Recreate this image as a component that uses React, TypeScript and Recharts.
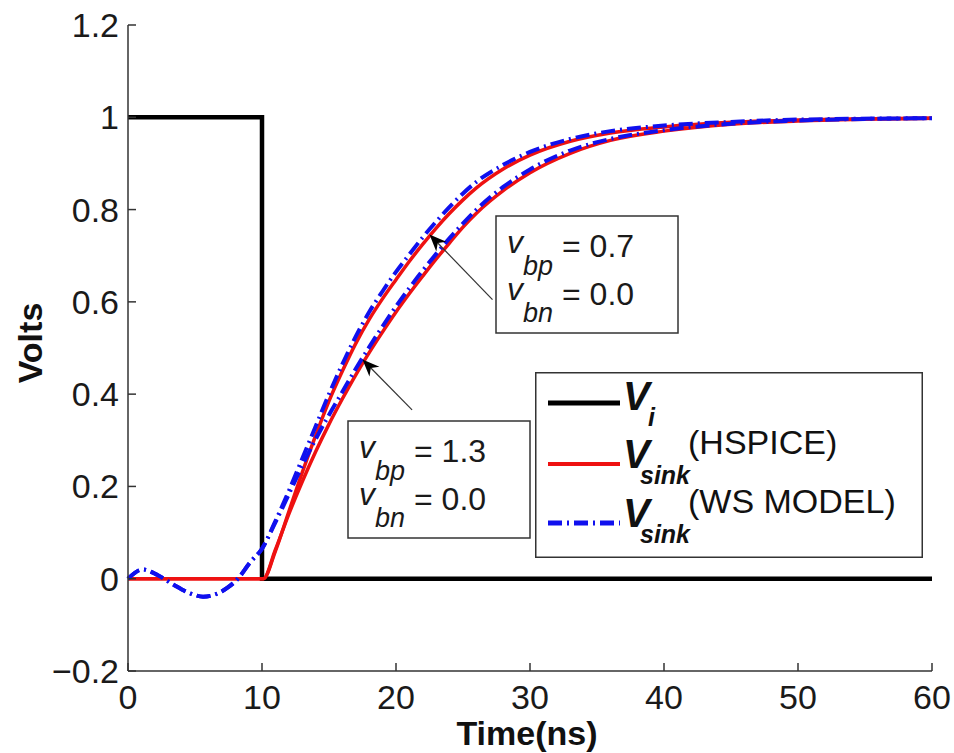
import React from 'react';
import { LineChart, Line, XAxis, YAxis, ReferenceLine, Legend } from 'recharts';

const FONT = '"Liberation Sans", Arial, Helvetica, sans-serif';

// input step V_i
const viTime = [0, 10, 10, 60];
const viVolts = [1, 1, 0, 0];

// HSPICE sink voltage, v_bp = 0.7
const hspiceFastTime = [0, 10.1, 11, 12, 13, 14, 15, 16, 17, 18, 19, 20, 21, 22, 23, 24, 25, 26, 28, 30, 33, 36, 40, 45, 50, 60];
const hspiceFastVolts = [0, 0, 0.06, 0.145, 0.23, 0.31, 0.385, 0.45, 0.51, 0.562, 0.607, 0.648, 0.688, 0.725, 0.76, 0.792, 0.821, 0.847, 0.888, 0.918, 0.948, 0.966, 0.979, 0.989, 0.994, 0.998];

// HSPICE sink voltage, v_bp = 1.3
const hspiceSlowTime = [0, 10.1, 11, 12, 13, 14, 15, 16, 17, 18, 19, 20, 21, 22, 23, 24, 25, 26, 27, 28, 30, 33, 36, 40, 45, 50, 60];
const hspiceSlowVolts = [0, 0, 0.063, 0.14, 0.21, 0.275, 0.335, 0.39, 0.442, 0.49, 0.535, 0.578, 0.618, 0.656, 0.693, 0.728, 0.762, 0.792, 0.818, 0.841, 0.88, 0.922, 0.95, 0.97, 0.985, 0.992, 0.998];

// WS model sink voltage, v_bp = 0.7
const wsFastTime = [0, 1.1, 2.2, 3.4, 4.5, 5.6, 6.6, 7.4, 8.2, 9.1, 10, 11, 12, 13, 14, 15, 16, 17, 18, 19, 20, 21, 22, 23, 24, 25, 26, 28, 30, 33, 36, 40, 45, 50, 60];
const wsFastVolts = [0, 0.02, 0.008, -0.013, -0.03, -0.039, -0.033, -0.02, 0, 0.035, 0.065, 0.125, 0.19, 0.26, 0.33, 0.4, 0.465, 0.525, 0.578, 0.623, 0.665, 0.703, 0.74, 0.774, 0.806, 0.835, 0.86, 0.897, 0.925, 0.953, 0.97, 0.982, 0.99, 0.995, 0.998];

// WS model sink voltage, v_bp = 1.3
const wsSlowTime = [0, 1.1, 2.2, 3.4, 4.5, 5.6, 6.6, 7.4, 8.2, 9.1, 10, 11, 12, 13, 14, 15, 16, 17, 18, 19, 20, 21, 22, 23, 24, 25, 26, 27, 28, 30, 33, 36, 40, 45, 50, 60];
const wsSlowVolts = [0, 0.02, 0.008, -0.013, -0.03, -0.039, -0.033, -0.02, 0, 0.035, 0.065, 0.122, 0.183, 0.245, 0.302, 0.355, 0.405, 0.455, 0.502, 0.547, 0.59, 0.63, 0.668, 0.704, 0.738, 0.77, 0.8, 0.826, 0.849, 0.887, 0.928, 0.953, 0.972, 0.986, 0.993, 0.998];

const timeTicks = [0, 10, 20, 30, 40, 50, 60];
const voltTicks = [-0.2, 0, 0.2, 0.4, 0.6, 0.8, 1, 1.2];

// arrow segments [tail, tip] in data units
const arrowFast = [{ x: 27.2, y: 0.605 }, { x: 22.5, y: 0.746 }];
const arrowSlow = [{ x: 21.2, y: 0.366 }, { x: 17.5, y: 0.475 }];

const zip = (t: number[], v: number[]) => t.map((x, i) => ({ t: x, v: v[i] }));

const viData = zip(viTime, viVolts);
const hsFast = zip(hspiceFastTime, hspiceFastVolts);
const hsSlow = zip(hspiceSlowTime, hspiceSlowVolts);
const wsFast = zip(wsFastTime, wsFastVolts);
const wsSlow = zip(wsSlowTime, wsSlowVolts);

const RED = '#ee1111';
const BLUE = '#1010ee';
const DASHDOT = '14 5 2 5';

const formatVolt = (v: number) => (v < 0 ? '\u2212' + Math.abs(v) : String(v));

const ArrowShape = (p: any) => {
  const { x1, y1, x2, y2 } = p;
  const a = Math.atan2(y2 - y1, x2 - x1);
  const c = Math.cos(a);
  const s = Math.sin(a);
  const len = 17;
  const half = 7;
  const bx = x2 - len * c;
  const by = y2 - len * s;
  const nx = x2 - len * 0.7 * c;
  const ny = y2 - len * 0.7 * s;
  const pts = [
    `${x2},${y2}`,
    `${bx - half * s},${by + half * c}`,
    `${nx},${ny}`,
    `${bx + half * s},${by - half * c}`,
  ].join(' ');
  return (
    <g>
      <line x1={x1} y1={y1} x2={nx} y2={ny} stroke="#333" strokeWidth={1.2} />
      <polygon points={pts} fill="#000" />
    </g>
  );
};

// small boxed note: v_bp / v_bn values
const NoteBox = ({ x, y, bp, bn }: { x: number; y: number; bp: string; bn: string }) => (
  <g fontFamily={FONT} fill="#1a1a1a">
    <rect x={x} y={y} width={182} height={117} fill="#fff" stroke="#333" strokeWidth={1.5} />
    <text x={x + 11} y={y + 37} fontSize={32} fontStyle="italic">v</text>
    <text x={x + 27} y={y + 59} fontSize={27} fontStyle="italic">bp</text>
    <text x={x + 66} y={y + 41} fontSize={32}>= {bp}</text>
    <text x={x + 11} y={y + 84} fontSize={32} fontStyle="italic">v</text>
    <text x={x + 27} y={y + 106} fontSize={27} fontStyle="italic">bn</text>
    <text x={x + 66} y={y + 89} fontSize={32}>= {bn}</text>
  </g>
);

const legendRows = [
  { sub: 'i', note: '', color: '#000', width: 5, dash: undefined as string | undefined, y: 31 },
  { sub: 'sink', note: '(HSPICE)', color: RED, width: 4, dash: undefined, y: 92 },
  { sub: 'sink', note: '(WS MODEL)', color: BLUE, width: 5, dash: DASHDOT, y: 151 },
];

const renderLegend = () => (
  <svg width={388} height={186} style={{ display: 'block' }}>
    <rect x={0.75} y={0.75} width={386.5} height={184.5} fill="#fff" stroke="#333" strokeWidth={1.5} />
    {legendRows.map((r) => {
      const base = r.note ? r.y + 4 : r.y + 7;
      return (
        <g key={r.note + r.y} fontFamily={FONT} fill="#111">
          <line x1={13} x2={85} y1={r.y} y2={r.y} stroke={r.color} strokeWidth={r.width} strokeDasharray={r.dash} />
          <text x={88} y={base} fontSize={40} fontWeight="bold" fontStyle="italic">V</text>
          <text x={r.note ? 105 : 113} y={base + 16} fontSize={25} fontWeight="bold" fontStyle="italic">{r.sub}</text>
          {r.note && (
            <text x={153} y={r.y - 10} fontSize={34}>{r.note}</text>
          )}
        </g>
      );
    })}
  </svg>
);

export default function App() {
  return (
    <>
      <style>{'body{margin:0}'}</style>
      <LineChart
        width={954}
        height={753}
        margin={{ top: 25, right: 22, bottom: 0, left: 0 }}
        style={{ fontFamily: FONT, background: '#fff' }}
      >
        <XAxis
          type="number"
          dataKey="t"
          domain={[0, 60]}
          ticks={timeTicks}
          height={82}
          tickSize={-8}
          tickMargin={22}
          stroke="#333"
          strokeWidth={1.5}
          tick={{ fill: '#1a1a1a', fontSize: 34 }}
          label={() => (
            <text x={527} y={745} textAnchor="middle" fontSize={34} fontWeight="bold" fill="#111">
              Time(ns)
            </text>
          )}
        />
        <YAxis
          type="number"
          domain={[-0.2, 1.2]}
          ticks={voltTicks}
          width={128}
          tickSize={-8}
          tickMargin={17}
          stroke="#333"
          strokeWidth={1.5}
          tickFormatter={formatVolt}
          tick={{ fill: '#1a1a1a', fontSize: 34 }}
          label={() => (
            <text
              x={42}
              y={343}
              textAnchor="middle"
              fontSize={34}
              fontWeight="bold"
              fill="#111"
              transform="rotate(-90 42 343)"
            >
              Volts
            </text>
          )}
        />
        <Line data={viData} dataKey="v" type="linear" stroke="#000" strokeWidth={4.5} dot={false} isAnimationActive={false} />
        <Line data={hsFast} dataKey="v" type="monotone" stroke={RED} strokeWidth={3.5} dot={false} isAnimationActive={false} />
        <Line data={hsSlow} dataKey="v" type="monotone" stroke={RED} strokeWidth={3.5} dot={false} isAnimationActive={false} />
        <Line data={wsFast} dataKey="v" type="monotone" stroke={BLUE} strokeWidth={4} strokeDasharray={DASHDOT} dot={false} isAnimationActive={false} />
        <Line data={wsSlow} dataKey="v" type="monotone" stroke={BLUE} strokeWidth={4} strokeDasharray={DASHDOT} dot={false} isAnimationActive={false} />
        <ReferenceLine segment={arrowFast} shape={ArrowShape} />
        <ReferenceLine segment={arrowSlow} shape={ArrowShape} />
        <NoteBox x={496} y={216} bp="0.7" bn="0.0" />
        <NoteBox x={348} y={421} bp="1.3" bn="0.0" />
        <Legend
          layout="vertical"
          align="center"
          verticalAlign="middle"
          content={renderLegend}
          wrapperStyle={{ left: 535, top: 372, width: 388, height: 186 }}
        />
      </LineChart>
    </>
  );
}
